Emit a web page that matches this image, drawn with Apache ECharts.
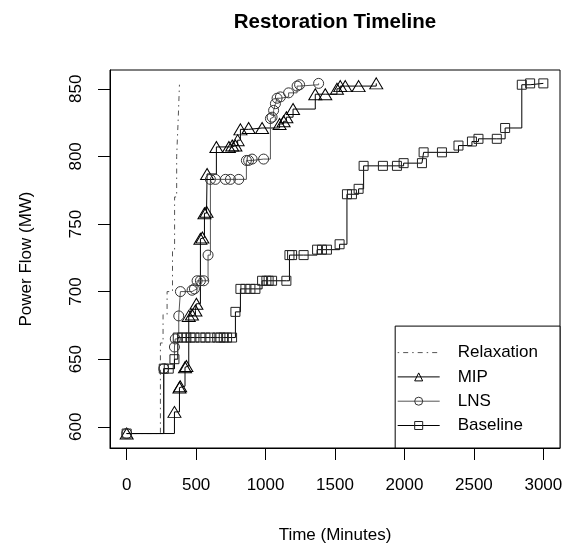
<!DOCTYPE html>
<html><head><meta charset="utf-8">
<script src="https://cdn.jsdelivr.net/npm/echarts@6/dist/echarts.min.js"></script>
<style>html,body{margin:0;padding:0;background:#fff}#c{width:574px;height:548px}</style>
</head><body><div id="c"></div>
<script>
// ---- data (minutes, MW) ----
const xTicks = [0, 500, 1000, 1500, 2000, 2500, 3000];
const yTicks = [600, 650, 700, 750, 800, 850];

const relaxMinutes = [0, 243, 262, 291, 330, 345, 360, 372, 380];
const relaxMW      = [595, 662, 683, 700, 730, 770, 800, 830, 853];

const mipMinutes = [0, 344, 380, 385, 420, 430, 447, 470, 495, 502, 531, 545, 560, 575, 579, 646, 736, 760, 783, 799, 819, 878, 975, 1101, 1130, 1150, 1198, 1358, 1430, 1514, 1538, 1574, 1670, 1797];
const mipMW      = [595, 611, 629, 630, 644, 645, 682, 683, 686, 691, 739, 740, 758, 759, 787, 807, 807, 808, 808, 812, 820, 821, 821, 824, 826, 829, 835, 846, 846, 850, 852, 852, 852, 854];

const lnsMinutes = [0, 267, 344, 350, 375, 387, 471, 488, 507, 531, 555, 586, 603, 639, 711, 747, 807, 862, 878, 903, 986, 1035, 1047, 1058, 1071, 1083, 1107, 1166, 1227, 1245, 1382];
const lnsMW      = [595, 643, 659, 665, 682, 700, 701, 702, 708, 708, 708, 727, 783, 783, 783, 783, 783, 797, 797, 798, 798, 828, 829, 834, 839, 843, 844, 847, 852, 853, 854];

const baseMinutes = [0, 267, 303, 344, 368, 399, 430, 459, 488, 531, 567, 603, 652, 675, 699, 723, 759, 783, 819, 855, 891, 927, 975, 1006, 1022, 1047, 1150, 1172, 1191, 1274, 1371, 1406, 1442, 1533, 1586, 1622, 1670, 1706, 1845, 1946, 1994, 2126, 2138, 2270, 2389, 2486, 2533, 2665, 2725, 2845, 2905, 3000];
const baseMW      = [595, 643, 643, 650, 666, 666, 666, 666, 666, 666, 666, 666, 666, 666, 666, 666, 666, 685, 702, 702, 702, 702, 708, 708, 708, 708, 708, 727, 727, 727, 731, 731, 731, 735, 772, 772, 776, 793, 793, 793, 795, 795, 803, 803, 808, 811, 813, 813, 821, 853, 854, 854];

const zip = (a, b) => a.map((v, i) => [v, b[i]]);
const FONT = 'Liberation Sans, Arial, Helvetica, sans-serif';

const chart = echarts.init(document.getElementById('c'), null, {renderer: 'canvas'});
const hollow = (c) => ({color: 'rgba(0,0,0,0)', borderColor: c, borderWidth: 1});

chart.setOption({
  animation: false,
  backgroundColor: '#fff',
  title: {
    text: 'Restoration Timeline',
    left: 330, top: 7, textAlign: 'center',
    textStyle: {fontFamily: FONT, fontWeight: 'bold', fontSize: 20.5, color: '#000'}
  },
  grid: {left: 110, right: 14, top: 70, bottom: 100, show: true, borderColor: '#000', borderWidth: 1, containLabel: false, outerBoundsMode: 'none'},
  legend: {
    orient: 'vertical', right: 14, bottom: 100,
    backgroundColor: '#fff', borderColor: '#000', borderWidth: 1, borderRadius: 0,
    padding: [18, 22, 14, 2], itemGap: 7.3, itemWidth: 42, itemHeight: 10,
    lineStyle: {width: 1},
    itemStyle: {borderWidth: 1},
    textStyle: {fontFamily: FONT, fontSize: 17, color: '#000', lineHeight: 17, padding: [0, 0, 0, 13]},
    data: ['Relaxation', 'MIP', 'LNS', 'Baseline']
  },
  xAxis: {
    type: 'value', min: -120, max: 3120,
    name: 'Time (Minutes)', nameLocation: 'middle', nameGap: 79,
    nameTextStyle: {fontFamily: FONT, fontSize: 17, color: '#000'},
    axisLine: {show: true, onZero: false, lineStyle: {color: '#000', width: 1}},
    axisTick: {show: true, inside: false, length: 12, lineStyle: {color: '#000', width: 1}, customValues: xTicks},
    axisLabel: {fontFamily: FONT, fontSize: 17, color: '#000', margin: 29, customValues: xTicks, formatter: v => String(v)},
    splitLine: {show: false}
  },
  yAxis: {
    type: 'value', min: 584.3, max: 863.9,
    name: 'Power Flow (MW)', nameLocation: 'middle', nameGap: 75,
    nameTextStyle: {fontFamily: FONT, fontSize: 17, color: '#000'},
    axisLine: {show: true, onZero: false, lineStyle: {color: '#000', width: 1}},
    axisTick: {show: true, inside: false, length: 12, lineStyle: {color: '#000', width: 1}, customValues: yTicks},
    axisLabel: {fontFamily: FONT, fontSize: 17, color: '#000', margin: 25, rotate: 90, customValues: yTicks, formatter: v => String(v)},
    splitLine: {show: false}
  },
  series: [
    {name: 'Relaxation', type: 'line', step: 'end', data: zip(relaxMinutes, relaxMW), symbol: 'none',
     lineStyle: {color: '#555', width: 1, type: [1.5, 4, 5, 4]}, itemStyle: {color: 'rgba(0,0,0,0)', borderWidth: 0, borderColor: 'rgba(0,0,0,0)'}},
    {name: 'MIP', type: 'line', step: 'end', data: zip(mipMinutes, mipMW), symbol: 'triangle', symbolSize: [13, 11],
     showAllSymbol: true, lineStyle: {color: '#000', width: 1}, itemStyle: hollow('#000')},
    {name: 'LNS', type: 'line', step: 'end', data: zip(lnsMinutes, lnsMW), symbol: 'circle', symbolSize: 10,
     showAllSymbol: true, lineStyle: {color: '#555', width: 1}, itemStyle: hollow('#333')},
    {name: 'Baseline', type: 'line', step: 'end', data: zip(baseMinutes, baseMW), symbol: 'rect', symbolSize: 9,
     showAllSymbol: true, lineStyle: {color: '#000', width: 1}, itemStyle: hollow('#222')}
  ]
});
</script>
</body></html>
